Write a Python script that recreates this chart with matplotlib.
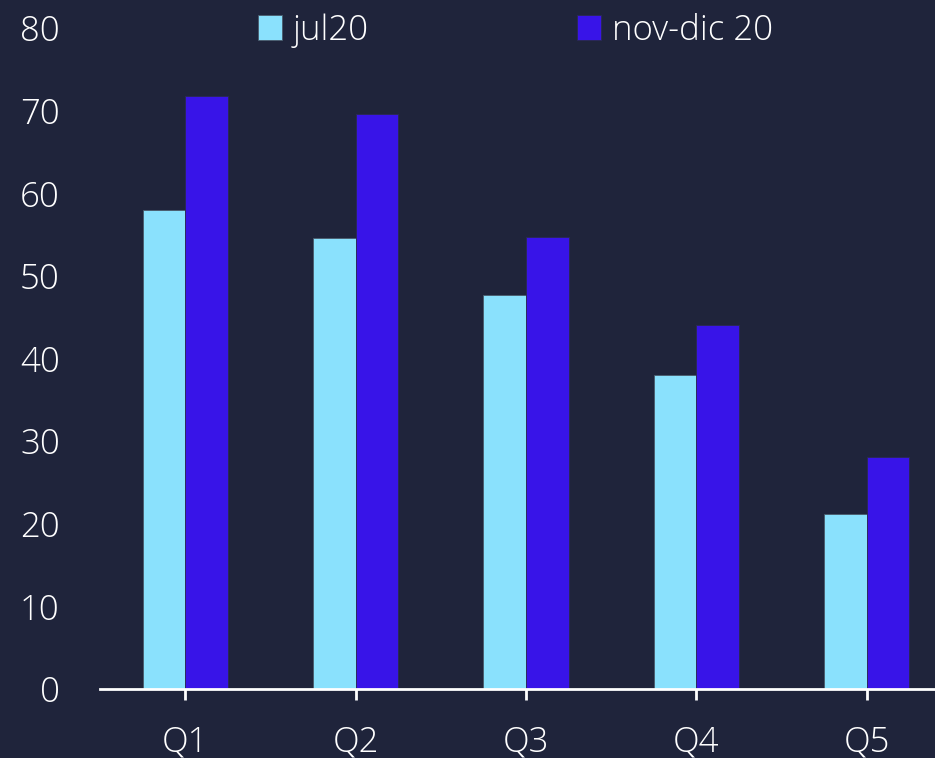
import numpy as np
import matplotlib
matplotlib.use('Agg')
import matplotlib.pyplot as plt

# Data
quintiles = ['Q1', 'Q2', 'Q3', 'Q4', 'Q5']
jul20 = [58.0, 54.6, 47.7, 38.0, 21.2]
novdic20 = [71.8, 69.6, 54.7, 44.1, 28.1]
series_names = ['jul20', 'nov-dic 20']

bg = '#1F243B'
c_jul = '#8AE1FD'
c_nov = '#3814E8'

plt.rcParams['font.family'] = ['Open Sans', 'DejaVu Sans']
plt.rcParams['font.weight'] = 'light'

fig = plt.figure(figsize=(9.35, 7.58), dpi=100, facecolor=bg)
ax = fig.add_axes([0.107, 0.091, 0.893, 0.872], facecolor=bg)

x = np.arange(len(quintiles))
w = 0.25
ax.bar(x - w / 2, jul20, w, color=c_jul, edgecolor='#4a5a6a', lw=0.6, label=series_names[0])
ax.bar(x + w / 2, novdic20, w, color=c_nov, edgecolor='#2a2a50', lw=0.6, label=series_names[1])

ax.set_xlim(-0.5, 4.4)
ax.set_ylim(0, 80)
ax.set_yticks(range(0, 81, 10))
ax.set_xticks(x)
ax.set_xticklabels(quintiles)

for s in ['top', 'right', 'left']:
    ax.spines[s].set_visible(False)
ax.spines['bottom'].set_color('white')
ax.spines['bottom'].set_linewidth(2)

ax.tick_params(axis='y', length=0, pad=29, labelsize=25, labelcolor='white')
ax.tick_params(axis='x', length=8, width=2, color='white', pad=18,
               labelsize=25, labelcolor='white', direction='out')

leg = fig.legend(loc='center', bbox_to_anchor=(0.551, 0.96), ncol=2, frameon=False,
                 fontsize=25, labelcolor='white', handlelength=0.7, handleheight=0.7,
                 handletextpad=0.3, columnspacing=6.0)

fig.savefig('out.png', facecolor=bg)
